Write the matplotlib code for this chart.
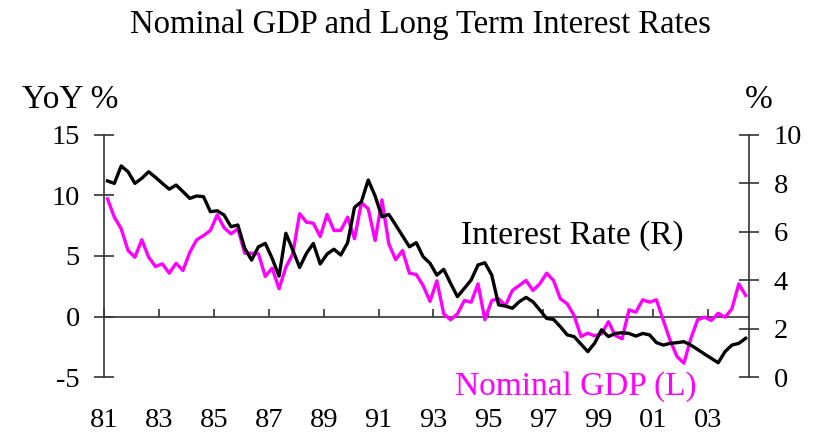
import matplotlib
matplotlib.use("Agg")
import matplotlib.pyplot as plt
import numpy as np

# quarterly series, 1981Q1 - 2004Q2
gdp_yoy = [9.73, 8.21, 7.25, 5.45, 4.90, 6.34, 4.90, 4.13, 4.35, 3.58,
           4.40, 3.80, 5.31, 6.34, 6.69, 7.11, 8.40, 7.33, 6.83, 7.25,
           5.23, 5.23, 5.18, 3.31, 4.00, 2.29, 4.07, 5.18, 8.49, 7.79,
           7.71, 6.61, 8.43, 7.11, 7.11, 8.21, 6.42, 9.40, 8.90, 6.28,
           9.64, 6.00, 4.69, 5.45, 3.58, 3.47, 2.56, 1.25, 2.95, 0.22,
           -0.27, 0.22, 1.32, 1.18, 2.70, -0.27, 1.32, 1.46, 0.91, 2.15,
           2.56, 2.98, 2.15, 2.70, 3.58, 2.98, 1.46, 1.05, 0.08, -1.65,
           -1.38, -1.60, -1.43, -0.43, -1.57, -1.84, 0.55, 0.36, 1.38, 1.18,
           1.38, -0.33, -1.98, -3.31, -3.86, -1.84, -0.27, -0.06, -0.33, 0.27,
           -0.06, 0.64, 2.70, 1.74]

interest_rate = [8.10, 8.00, 8.72, 8.48, 8.00, 8.21, 8.48, 8.25, 8.00, 7.76,
                 7.93, 7.66, 7.38, 7.48, 7.45, 6.83, 6.87, 6.69, 6.21, 6.28,
                 5.32, 4.83, 5.38, 5.52, 4.90, 4.17, 5.94, 5.25, 4.53, 5.11,
                 5.52, 4.67, 5.08, 5.28, 5.04, 5.55, 7.01, 7.24, 8.14, 7.48,
                 6.62, 6.72, 6.28, 5.83, 5.38, 5.55, 4.97, 4.70, 4.21, 4.45,
                 3.87, 3.32, 3.66, 4.01, 4.63, 4.72, 4.21, 2.98, 2.93, 2.84,
                 3.11, 3.29, 3.11, 2.77, 2.42, 2.38, 2.08, 1.74, 1.67, 1.36,
                 1.05, 1.40, 1.95, 1.67, 1.80, 1.83, 1.80, 1.69, 1.80, 1.74,
                 1.42, 1.32, 1.39, 1.42, 1.46, 1.32, 1.14, 0.95, 0.77, 0.59,
                 1.05, 1.32, 1.39, 1.60]

tick_years = list(range(1981, 2004, 2))
tick_labels = ["%02d" % (y % 100) for y in tick_years]

quarters = 1981 + (np.arange(len(gdp_yoy)) + 0.5) / 4

plt.rcParams['font.family'] = ['Liberation Serif', 'DejaVu Serif']
plt.rcParams['axes.unicode_minus'] = False
fs_tick = 20.5
fs_text = 24

fig = plt.figure(figsize=(8.16, 4.34), dpi=100)
ax1 = fig.add_axes([0.1275, 0.1313, 0.918 - 0.1275, 0.689 - 0.1313])
ax2 = ax1.twinx()

ax1.plot(quarters, gdp_yoy, color='#FF00FF', lw=2.4, zorder=3)
ax2.plot(quarters, interest_rate, color='black', lw=2.4, zorder=3)

ax1.set_xlim(1981, 2004.5)
ax1.set_ylim(-5, 15)
ax2.set_ylim(0, 10)
ax1.set_yticks([-5, 0, 5, 10, 15])
ax2.set_yticks([0, 2, 4, 6, 8, 10])
ax1.set_xticks(tick_years)
ax1.set_xticklabels(tick_labels)

for ax in (ax1, ax2):
    ax.spines['top'].set_visible(False)
    ax.spines['bottom'].set_visible(False)
    ax.patch.set_visible(False)
    for s in ('left', 'right'):
        ax.spines[s].set_color('#333333')
        ax.spines[s].set_linewidth(1.2)

ax1.spines['bottom'].set_visible(True)
ax1.spines['bottom'].set_position(('data', 0))
ax1.spines['bottom'].set_linewidth(1.2)
ax1.spines['bottom'].set_color('#333333')
ax1.spines['right'].set_visible(False)
ax2.spines['left'].set_visible(False)

ax1.tick_params(axis='y', direction='inout', length=14, width=1.2,
                pad=10.5, labelsize=fs_tick, color='#333333')
ax2.tick_params(axis='y', direction='inout', length=14, width=1.2,
                pad=10.5, labelsize=fs_tick, color='#333333')
ax1.tick_params(axis='x', direction='in', length=6, width=1.2,
                pad=66, labelsize=fs_tick, color='#333333')

fig.text(0.5147, 0.924, "Nominal GDP and Long Term Interest Rates",
         ha='center', va='baseline', fontsize=23.5)
fig.text(0.027, 0.751, "YoY %", ha='left', va='baseline', fontsize=fs_text)
fig.text(0.913, 0.751, "%", ha='left', va='baseline', fontsize=fs_text)
fig.text(0.565, 0.4394, "Interest Rate (R)", ha='left', va='baseline',
         fontsize=fs_text, color='black')
fig.text(0.558, 0.0899, "Nominal GDP (L)", ha='left', va='baseline',
         fontsize=fs_text, color='#FF00FF')

fig.savefig("out.png", dpi=100)
